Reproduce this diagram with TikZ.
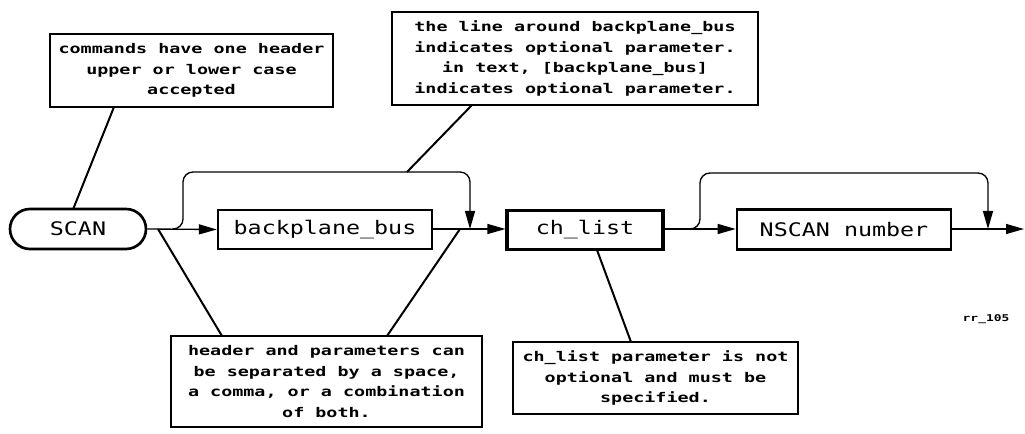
\documentclass[tikz,border=0pt]{standalone}
\usepackage{fontspec}
\usetikzlibrary{arrows.meta}
\newfontfamily\cfont[FakeStretch=1.38]{DejaVu Sans Mono}
\newfontfamily\lfont[FakeStretch=1.25]{DejaVu Sans Mono}
\begin{document}
\begin{tikzpicture}[x=0.75pt,y=-0.75pt,
  callout/.style={draw,line width=1.1pt,inner sep=0pt,align=center,
    font=\cfont\bfseries\fontsize{10}{15.5}\selectfont},
  label/.style={draw,inner sep=0pt,font=\lfont\fontsize{14}{16}\selectfont},
  flow/.style={line width=1pt,-{Triangle[length=13.5pt,width=7.5pt]}},
  pointer/.style={line width=1.5pt}]
\useasboundingbox (0,0) rectangle (1025,434);
% callout boxes
\node[callout,minimum width=212.25pt,minimum height=54.75pt] (c1) at (191.5,70.5)
  {commands have one header\\upper or lower case\\accepted};
\node[callout,minimum width=274.5pt,minimum height=69.75pt] (c2) at (575,58.5)
  {the line around backplane\_bus\\indicates optional parameter.\\in text, [backplane\_bus]\\indicates optional parameter.};
\node[callout,minimum width=233.25pt,minimum height=68.25pt] (c3) at (326.5,381.5)
  {header and parameters can\\be separated by a space,\\a comma, or a combination\\of both.};
\node[callout,minimum width=213.75pt,minimum height=54pt] (c4) at (655.5,378)
  {ch\_list parameter is not\\optional and must be\\specified.};
% syntax elements
\node[label,line width=2pt,rounded corners=15pt,minimum width=102pt,minimum height=30pt] (scan) at (78,229) {SCAN};
\node[label,line width=1.8pt,minimum width=160.5pt,minimum height=29.25pt] (bb) at (325,229.5) {backplane\_bus};
\node[label,line width=2.3pt,minimum width=117pt,minimum height=29.25pt] (ch) at (585,230) {ch\_list};
\node[label,line width=2pt,minimum width=160.5pt,minimum height=30pt] (ns) at (844,229.5) {NSCAN number};
\node[font=\cfont\bfseries\fontsize{7}{8}\selectfont,inner sep=0pt] (rr) at (986,319) {rr\_105};
% coordinates
\coordinate (j1) at (172,229);
\coordinate (m1) at (470,229);
\coordinate (j2) at (690,229);
\coordinate (m2) at (988,229);
\coordinate (endp) at (1024,229);
% main flow
\draw[flow] (scan.east) -- (bb.west);
\draw[flow] (bb.east |- j1) -- (ch.west |- j1);
\draw[flow] (ch.east |- j1) -- (ns.west |- j1);
\draw[flow] (ns.east |- j1) -- (endp);
% bypasses
\draw[flow,rounded corners=7.5pt] (j1) -- (183,229) -- (183,172) -- (470,172) -- (m1);
\draw[flow,rounded corners=7.5pt] (j2) -- (700,229) -- (700,173) -- (988,173) -- (m2);
% pointers
\coordinate (p1a) at (114,107); \coordinate (p1b) at (73,209.5);
\coordinate (p2a) at (472,105); \coordinate (p2b) at (407,172);
\coordinate (p3a) at (222,336); \coordinate (p3b) at (158,229);
\coordinate (p4a) at (387,336); \coordinate (p4b) at (460,229);
\coordinate (p5a) at (631,342); \coordinate (p5b) at (597,250);
\draw[pointer] (p1a) -- (p1b);
\draw[pointer] (p2a) -- (p2b);
\draw[pointer] (p3a) -- (p3b);
\draw[pointer] (p4a) -- (p4b);
\draw[pointer] (p5a) -- (p5b);
\end{tikzpicture}
\end{document}
